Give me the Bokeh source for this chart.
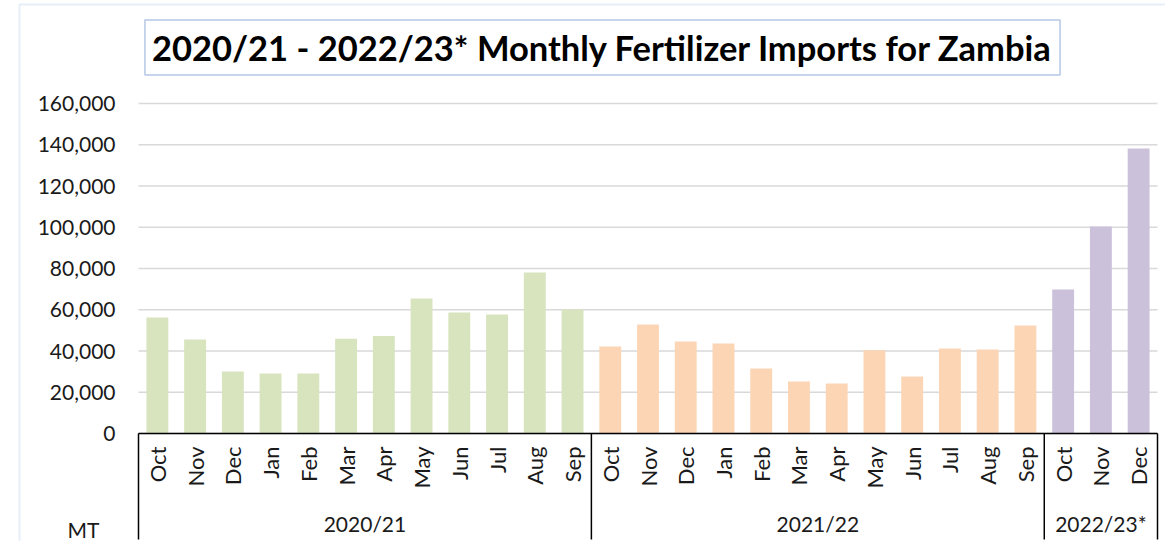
import math
from bokeh.plotting import figure
from bokeh.models import ColumnDataSource, Range1d, Label, BoxAnnotation
from bokeh.core.properties import value
from bokeh.embed import file_html
from bokeh.resources import INLINE

# ---------------- data ----------------
title_text = "2020/21 - 2022/23* Monthly Fertilizer Imports for Zambia"
unit_label = "MT"
seasons = ["2020/21", "2021/22", "2022/23*"]
months_2020_21 = ["Oct", "Nov", "Dec", "Jan", "Feb", "Mar", "Apr", "May", "Jun", "Jul", "Aug", "Sep"]
months_2021_22 = ["Oct", "Nov", "Dec", "Jan", "Feb", "Mar", "Apr", "May", "Jun", "Jul", "Aug", "Sep"]
months_2022_23 = ["Oct", "Nov", "Dec"]
imports_2020_21 = [56200, 45600, 30100, 29100, 29100, 45900, 47300, 65400, 58700, 57700, 78100, 60100]
imports_2021_22 = [42200, 52800, 44600, 43600, 31500, 25200, 24200, 40400, 27600, 41200, 40700, 52400]
imports_2022_23 = [69800, 100400, 138200]
season_colors = ["#D7E4BD", "#FCD5B5", "#CCC1DA"]
y_ticks = [0, 20000, 40000, 60000, 80000, 100000, 120000, 140000, 160000]
y_tick_labels = ["0", "20,000", "40,000", "60,000", "80,000", "100,000", "120,000", "140,000", "160,000"]

# ---------------- layout constants (canvas pixels) ----------------
W, H = 1165, 541
PLOT_LEFT, PLOT_RIGHT = 138, 1157   # canvas x of category axis ends
ZERO_PX = 433                       # canvas y of value 0
TOPTICK_PX = 103                    # canvas y of value 160000
UNITS_PER_PX = 160000 / (ZERO_PX - TOPTICK_PX)

all_months = months_2020_21 + months_2021_22 + months_2022_23
n = len(all_months)
PX_PER_CAT = (PLOT_RIGHT - PLOT_LEFT) / n

def ydata(cy):
    return (ZERO_PX - cy) * UNITS_PER_PX

def xdata(cx):
    return (cx - PLOT_LEFT) / PX_PER_CAT

groups = [(months_2020_21, imports_2020_21, season_colors[0]),
          (months_2021_22, imports_2021_22, season_colors[1]),
          (months_2022_23, imports_2022_23, season_colors[2])]

xs, tops, cols, labs = [], [], [], []
bounds = [0]
centers = []
i = 0
for ms, vals, c in groups:
    start = i
    for m, v in zip(ms, vals):
        xs.append(i + 0.5)
        tops.append(v)
        cols.append(c)
        labs.append(m)
        i += 1
    bounds.append(i)
    centers.append((start + i) / 2)

src = ColumnDataSource(dict(x=xs, top=tops, color=cols, label=labs))

FONT = "Lato"
TXT = "#1a1a1a"

p = figure(width=W, height=H, output_backend="svg", toolbar_location=None,
           x_range=Range1d(xdata(0), xdata(W)), y_range=Range1d(ydata(H), ydata(0)),
           min_border=0, x_axis_type=None, y_axis_type=None)
p.outline_line_color = None
p.grid.visible = False
p.background_fill_color = "white"
p.border_fill_color = "white"

# outer chart border
p.add_layout(BoxAnnotation(left=xdata(19), right=xdata(3000), top=ydata(4), bottom=ydata(3000),
                           fill_color=None, fill_alpha=0, line_color="#B4C7E7", line_width=2))

# horizontal gridlines
p.segment(x0=[0] * len(y_ticks), y0=y_ticks, x1=[n] * len(y_ticks), y1=y_ticks,
          line_color="#D9D9D9", line_width=1.5)

# value-axis tick labels
p.text(x=[xdata(115)] * len(y_ticks), y=y_ticks, text=y_tick_labels, text_align="right",
       text_baseline="middle", text_font=value(FONT), text_font_size="21px", text_color=TXT)

# bars
p.vbar(x="x", top="top", width=0.58, bottom=0, fill_color="color", line_color=None, source=src)

# axis line and group separators
p.segment(x0=[0], y0=[0], x1=[n], y1=[0], line_color="black", line_width=1.5)
sep_bottom = ydata(539)
p.segment(x0=bounds, y0=[0] * len(bounds), x1=bounds, y1=[sep_bottom] * len(bounds),
          line_color="black", line_width=1.5)

# month labels
p.text(x="x", y=ydata(446), text="label", source=src, angle=math.pi / 2,
       text_align="right", text_baseline="middle", text_font=value(FONT),
       text_font_size="22px", text_color=TXT)

# season labels
p.text(x=centers, y=[ydata(523)] * len(centers), text=seasons, text_align="center",
       text_baseline="middle", text_font=value(FONT), text_font_size="21px", text_color=TXT)

# unit label
p.text(x=[xdata(83)], y=[ydata(529)], text=[unit_label], text_align="center",
       text_baseline="middle", text_font=value(FONT), text_font_size="21px", text_color=TXT)

# title in box
p.add_layout(Label(x=xdata(602), y=ydata(47), text=title_text, text_align="center",
                   text_baseline="middle", text_font=FONT, text_font_size="34.5px",
                   text_font_style="bold", text_color="black", padding=7,
                   border_line_color="#B4C7E7", border_line_width=1.5,
                   background_fill_color="white"))

open("out.html", "w").write(file_html(p, INLINE))
